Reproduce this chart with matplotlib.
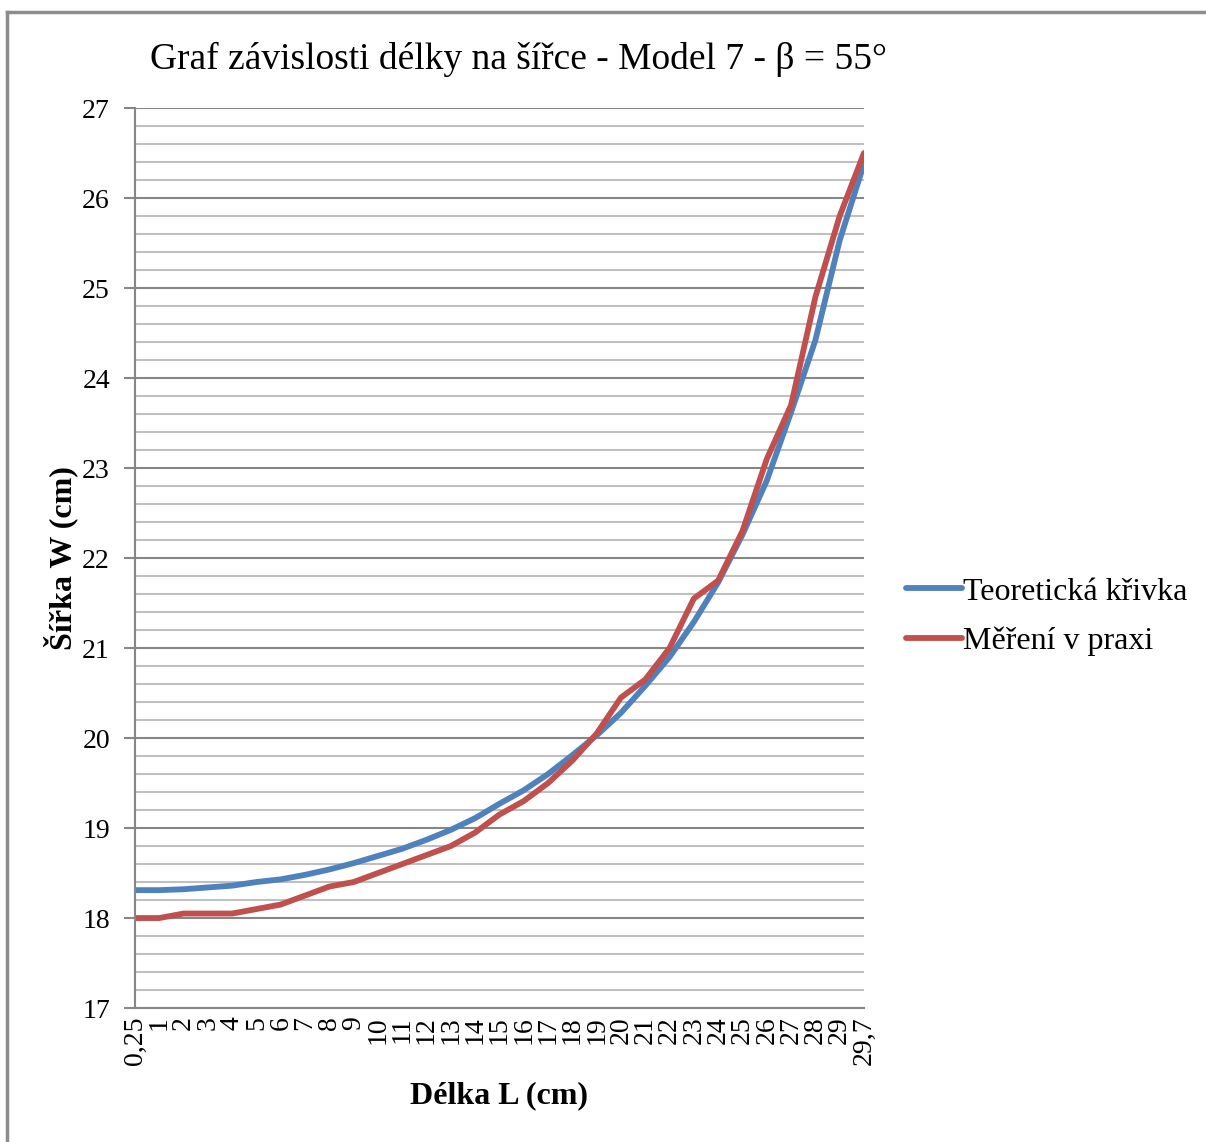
import matplotlib
matplotlib.use('Agg')
import matplotlib.pyplot as plt
from matplotlib.lines import Line2D
from matplotlib.ticker import MultipleLocator

plt.rcParams['font.family'] = ['Liberation Serif', 'DejaVu Serif']

# category labels along the length axis (cm)
delka = ['0,25', '1', '2', '3', '4', '5', '6', '7', '8', '9', '10', '11', '12', '13', '14',
         '15', '16', '17', '18', '19', '20', '21', '22', '23', '24', '25', '26', '27', '28',
         '29', '29,7']

# theoretical width curve (cm)
teorie = [18.31, 18.31, 18.32, 18.34, 18.36, 18.40, 18.43, 18.48, 18.54, 18.61, 18.69,
          18.77, 18.87, 18.98, 19.11, 19.27, 19.42, 19.60, 19.81, 20.03, 20.28, 20.58,
          20.90, 21.29, 21.73, 22.26, 22.86, 23.62, 24.42, 25.53, 26.38]

# measured width (cm)
mereni = [18.0, 18.0, 18.05, 18.05, 18.05, 18.1, 18.15, 18.25, 18.35, 18.4, 18.5, 18.6,
          18.7, 18.8, 18.95, 19.15, 19.3, 19.5, 19.75, 20.05, 20.45, 20.65, 21.0, 21.55,
          21.75, 22.3, 23.1, 23.7, 24.9, 25.8, 26.5]

fig = plt.figure(figsize=(12.06, 11.42), dpi=100)
ax = fig.add_axes([0.1119, 0.1173, 0.6045, 0.7881])

x = list(range(len(delka)))
ax.plot(x, teorie, color='#4f81bd', lw=4.2, solid_capstyle='round', label='Teoretická křivka')
ax.plot(x, mereni, color='#c0504d', lw=4.2, solid_capstyle='round', label='Měření v praxi')

ax.set_xlim(0, len(delka) - 1)
ax.set_ylim(17, 27)
ax.yaxis.set_major_locator(MultipleLocator(1))
ax.yaxis.set_minor_locator(MultipleLocator(0.2))
ax.grid(which='major', axis='y', color='#868686', lw=1.5)
ax.grid(which='minor', axis='y', color='#bfbfbf', lw=1.5)
ax.set_axisbelow(True)

ax.set_xticks(x)
ax.set_xticklabels(delka, rotation=90, fontsize=20)
ax.tick_params(axis='x', length=0, pad=6)
ax.tick_params(axis='y', which='major', length=8, width=1.5, color='#868686', labelsize=20, pad=10)
ax.tick_params(axis='y', which='minor', length=0)

for s in ['top', 'right']:
    ax.spines[s].set_visible(False)
for s in ['left', 'bottom']:
    ax.spines[s].set_color('#868686')
    ax.spines[s].set_linewidth(1.5)

ax.set_ylabel('Šířka W (cm)', fontsize=23, fontweight='bold', labelpad=3)
ax.set_xlabel('Délka L (cm)', fontsize=23, fontweight='bold', labelpad=12)
fig.text(0.430, 0.948, 'Graf závislosti délky na šířce - Model 7 - β = 55°',
         ha='center', va='center', fontsize=27)

ax.legend(loc='center left', bbox_to_anchor=(1.018, 0.435), frameon=False, fontsize=23,
          handlelength=1.75, handletextpad=0.05, labelspacing=0.62)

# chart frame edges
fig.add_artist(Line2D([0.006, 0.006], [0.0, 0.9895], color='#8c8c8c', lw=2.5,
                      transform=fig.transFigure))
fig.add_artist(Line2D([0.006, 1.0], [0.9895, 0.9895], color='#8c8c8c', lw=2.5,
                      transform=fig.transFigure))

fig.savefig('out.png', dpi=100)
